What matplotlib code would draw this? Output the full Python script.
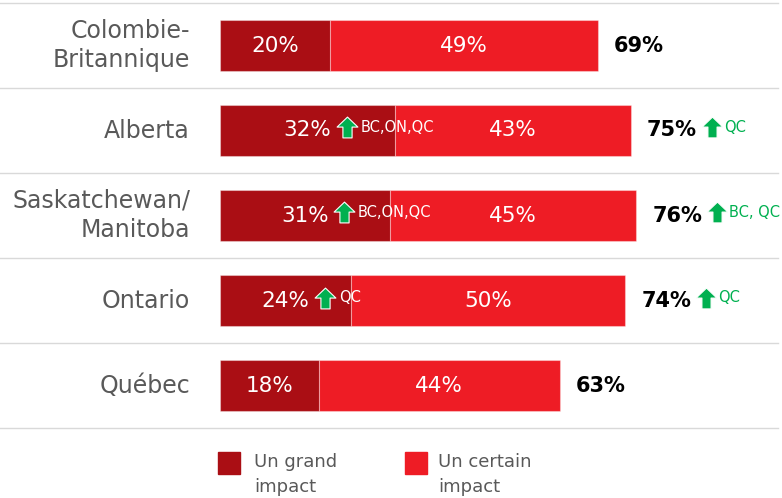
import numpy as np
import matplotlib
matplotlib.use("Agg")
import matplotlib.pyplot as plt
from matplotlib.path import Path
from matplotlib.patches import Rectangle

categories = ['Colombie-\nBritannique', 'Alberta', 'Saskatchewan/\nManitoba', 'Ontario', 'Québec']
grand = [20, 32, 31, 24, 18]
certain = [49, 43, 45, 50, 44]
total = [69, 75, 76, 74, 63]
grand_sig = ['', 'BC,ON,QC', 'BC,ON,QC', 'QC', '']
total_sig = ['', 'QC', 'BC, QC', 'QC', '']
legend_labels = ['Un grand\nimpact', 'Un certain\nimpact']

DARK = '#AA0E14'
LIGHT = '#EE1C25'
GREEN = '#00B050'
GREY = '#595959'

W, H = 782, 498
px_per_pct = 5.478
row_h = 85.0
x0_px = 220
y0_px = 45.5

plt.rcParams['font.family'] = ['DejaVu Sans']

fig = plt.figure(figsize=(W / 100, H / 100), dpi=100)
ax = fig.add_axes([0, 0, 1, 1])
ax.set_xlim(-x0_px / px_per_pct, (W - x0_px) / px_per_pct)
ax.set_ylim((H - y0_px) / row_h, -y0_px / row_h)
ax.axis('off')

y = np.arange(len(categories))
ax.barh(y, grand, height=0.59, color=DARK, edgecolor=(1, 1, 1, 0.35), linewidth=0.8)
ax.barh(y, certain, left=grand, height=0.59, color=LIGHT, edgecolor=(1, 1, 1, 0.35), linewidth=0.8)

# separators
for s in np.arange(len(categories) + 1) - 0.5:
    ax.axhline(s, xmin=0, xmax=778 / W, color='#D9D9D9', lw=1)

# up arrow marker
arrow = Path([(-0.22, -0.5), (0.22, -0.5), (0.22, 0.02), (0.5, 0.02), (0.0, 0.5),
              (-0.5, 0.02), (-0.22, 0.02), (-0.22, -0.5)],
             [Path.MOVETO] + [Path.LINETO] * 6 + [Path.CLOSEPOLY])

val_txt = []
tot_txt = []
for i, cat in enumerate(categories):
    ax.annotate(cat, (0, i), xytext=(-30, 0), textcoords='offset pixels',
                ha='right', va='center', ma='right', fontsize=17, color=GREY,
                linespacing=1.3)
    t = ax.text(grand[i] / 2, i, f'{grand[i]}%', ha='center', va='center',
                color='white', fontsize=15.5)
    val_txt.append(t)
    ax.text(grand[i] + certain[i] / 2, i, f'{certain[i]}%', ha='center', va='center',
            color='white', fontsize=15.5)
    t2 = ax.annotate(f'{total[i]}%', (grand[i] + certain[i], i), xytext=(16, 0),
                     textcoords='offset pixels', ha='left', va='center',
                     fontsize=15, fontweight='bold', color='black')
    tot_txt.append(t2)

fig.canvas.draw()
inv = ax.transData.inverted()


def add_sig(txt, i, label, color, gap_text):
    bb = txt.get_window_extent()
    yc = ax.transData.transform((0, i))[1]
    ax_x, ax_y = inv.transform((bb.x1 + 15, yc + 3))
    ax.plot(ax_x, ax_y, marker=arrow, markersize=15, color=GREEN,
            markeredgecolor='white', markeredgewidth=0.8, linestyle='none')
    tx, ty = inv.transform((bb.x1 + gap_text, yc + 3))
    ax.text(tx, ty, label, ha='left', va='center', fontsize=10.5, color=color)


for i in range(len(categories)):
    if grand_sig[i]:
        add_sig(val_txt[i], i, grand_sig[i], 'white', 29)
    if total_sig[i]:
        add_sig(tot_txt[i], i, total_sig[i], GREEN, 27)

# legend
for j, (lab, col) in enumerate(zip(legend_labels, [DARK, LIGHT])):
    lx = [218, 405][j]
    tx = [254, 438][j]
    fig.add_artist(Rectangle((lx / W, 1 - 474 / H), 22 / W, 22 / H,
                             transform=fig.transFigure, color=col))
    fig.text(tx / W, 1 - 453 / H, lab, ha='left', va='top', fontsize=13,
             color=GREY, linespacing=1.5)

fig.savefig('out.png', dpi=100)
